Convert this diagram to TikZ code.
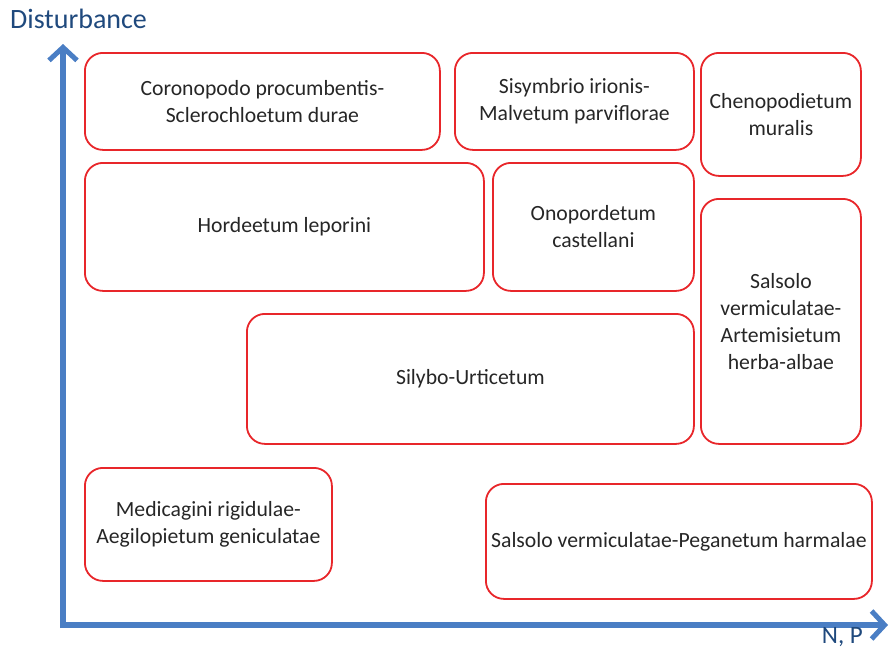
\documentclass[tikz,border=0pt]{standalone}
\usepackage{fontspec}
\setmainfont{Carlito}
\usetikzlibrary{arrows.meta}
\definecolor{axisblue}{HTML}{4A7EC4}
\definecolor{labelblue}{HTML}{1F497D}
\definecolor{boxred}{HTML}{E8262A}
\begin{document}
\begin{tikzpicture}[x=1pt,y=-1pt,
  vbox/.style={draw=boxred, line width=1.8pt, rounded corners=18pt},
  vtext/.style={align=center, font=\fontsize{21.7}{26.8}\selectfont, text=black!85},
  axisline/.style={draw=axisblue, line width=5.5pt, -{Straight Barb[length=13pt,width=28pt,line width=5pt]}},
  axislabel/.style={text=labelblue, font=\fontsize{28}{30}\selectfont}]
\useasboundingbox (0,0) rectangle (889,651);
\newcommand{\vbx}[6]{%
  \node[vbox, minimum width={#4-#2}, minimum height={#5-#3}, anchor=north west, inner sep=0pt] (#1) at (#2,#3) {};
  \node[vtext] (#1t) at (#1.center) {#6};}
\vbx{b1}{84}{52}{439}{149}{Coronopodo procumbentis-\\Sclerochloetum durae}
\vbx{b2}{454}{52}{693}{149}{Sisymbrio irionis-\\Malvetum parviflorae}
\vbx{b3}{700}{52}{860}{175}{Chenopodietum\\muralis}
\vbx{b4}{84}{162}{483}{290}{Hordeetum leporini}
\vbx{b5}{492}{162}{693}{290}{Onopordetum\\castellani}
\vbx{b6}{700}{198}{860}{443}{Salsolo\\vermiculatae-\\Artemisietum\\herba-albae}
\vbx{b7}{246}{313}{693}{443}{Silybo-Urticetum}
\vbx{b8}{84}{467}{331}{580}{Medicagini rigidulae-\\Aegilopietum geniculatae}
\vbx{b9}{485}{483}{871}{598}{Salsolo vermiculatae-Peganetum harmalae}
\coordinate (o) at (63,625);
\coordinate (ytip) at (63,44);
\coordinate (xtip) at (888,625);
\draw[axisline] (63,628) -- (ytip);
\draw[axisline] (60,625) -- (xtip);
\node[axislabel, anchor=west, inner sep=0pt] (ylab) at (10,19) {Disturbance};
\node[axislabel, anchor=east, inner sep=0pt, font=\fontsize{25}{27}\selectfont] (xlab) at (863,637) {N, P};
\end{tikzpicture}
\end{document}
